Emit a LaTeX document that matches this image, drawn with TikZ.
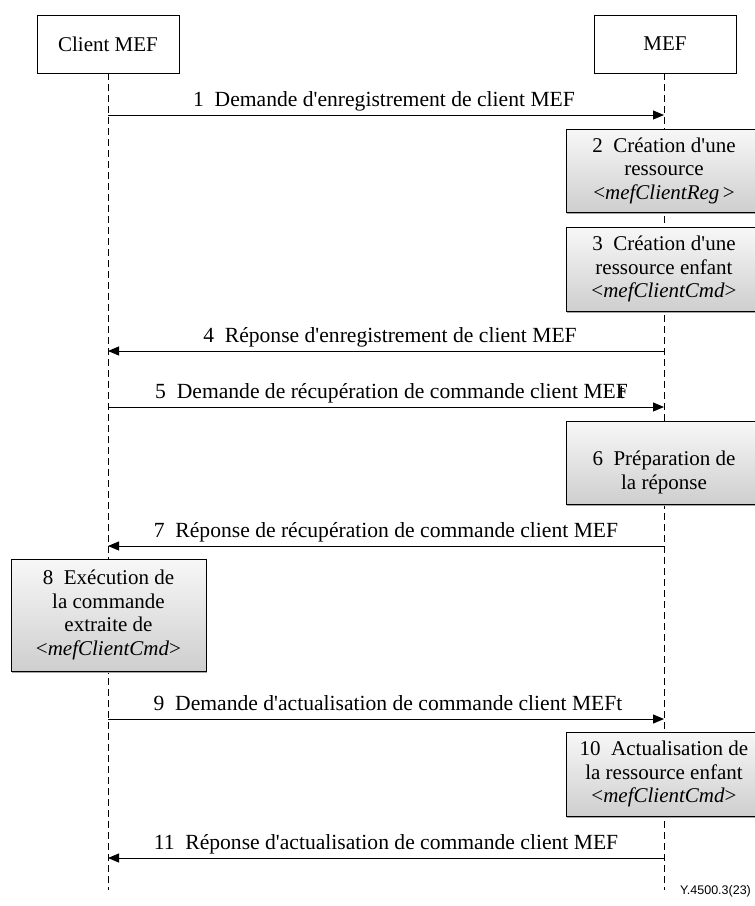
\documentclass[tikz,border=0pt]{standalone}
\usepackage{fontspec}
\setmainfont{Liberation Serif}[Ligatures=TeXOff]
\setsansfont{Liberation Sans}
\usetikzlibrary{arrows.meta,shadows}
\begin{document}
\begin{tikzpicture}[x=1pt,y=-1pt,
  font=\fontsize{21}{23.5}\selectfont,
  actor/.style={draw, line width=0.8pt, minimum width=142pt, minimum height=58pt, fill=white, inner sep=0pt},
  stepbox/.style={draw, line width=0.8pt, minimum width=196pt, align=center, inner sep=0pt,
    top color=gray!6, bottom color=gray!38,
    drop shadow={shadow xshift=1.2pt, shadow yshift=-1.6pt, fill=gray!70, opacity=1}},
  lifeline/.style={line width=0.9pt, dash pattern=on 7pt off 4pt},
  msg/.style={line width=0.9pt, -{Triangle[length=11pt,width=9pt]}},
  msglabel/.style={anchor=base, inner sep=0pt, font=\fontsize{21.6}{24}\selectfont}]
\useasboundingbox (0,0) rectangle (755,906);

% participants
\node[actor] (client) at (108,44) {Client MEF};
\node[actor] (mef) at (665,44) {MEF};
\coordinate (clientend) at (108,890);
\coordinate (mefend) at (664,890);
\draw[lifeline] (client.south -| clientend) -- (clientend);
\draw[lifeline] (mef.south -| mefend) -- (mefend);

% anchor points on the lifelines
\foreach \n/\y in {1/115,4/351,5/407,7/546,9/719,11/858}{
  \coordinate (c\n) at (108,\y);
  \coordinate (m\n) at (664,\y);
}

% messages
\draw[msg] (c1) -- (m1);
\node[msglabel] (l1) at (384,106) {1\ \ Demande d'enregistrement de client MEF};

\node[stepbox, minimum height=83pt] (b2) at (664,170.5)
  {2\ \ Création d'une\\ressource\\<\textit{mefClientReg}\,>};
\node[stepbox, minimum height=84pt] (b3) at (664,269)
  {3\ \ Création d'une\\ressource enfant\\<\textit{mefClientCmd}>};

\draw[msg] (m4) -- (c4);
\node[msglabel] (l4) at (390,342) {4\ \ Réponse d'enregistrement de client MEF};

\draw[msg] (c5) -- (m5);
\node[msglabel] (l5) at (390,398) {5\ \ Demande de récupération de commande client MEF\kern-0.42em t};

\node[stepbox, minimum height=83pt] (b6) at (664,462.5) {};
\node[align=center, inner sep=0pt] (t6) at ([yshift=-10pt]b6.center) {6\ \ Préparation de\\la réponse};

\draw[msg] (m7) -- (c7);
\node[msglabel] (l7) at (386,537) {7\ \ Réponse de récupération de commande client MEF};

\node[stepbox, minimum height=112pt, minimum width=195pt] (b8) at (108.5,615)
  {8\ \ Exécution de\\la commande\\extraite de\\<\textit{mefClientCmd}>};

\draw[msg] (c9) -- (m9);
\node[msglabel] (l9) at (388,710) {9\ \ Demande d'actualisation de commande client MEFt};

\node[stepbox, minimum height=84pt] (b10) at (664,774)
  {10\ \ Actualisation de\\la ressource enfant\\<\textit{mefClientCmd}>};

\draw[msg] (m11) -- (c11);
\node[msglabel] (l11) at (386,849) {11\ \ Réponse d'actualisation de commande client MEF};

\node[anchor=base west, inner sep=0pt, font=\sffamily\fontsize{12.5}{14}\selectfont] (ref) at (680,894) {Y.4500.3(23)};
\end{tikzpicture}
\end{document}
